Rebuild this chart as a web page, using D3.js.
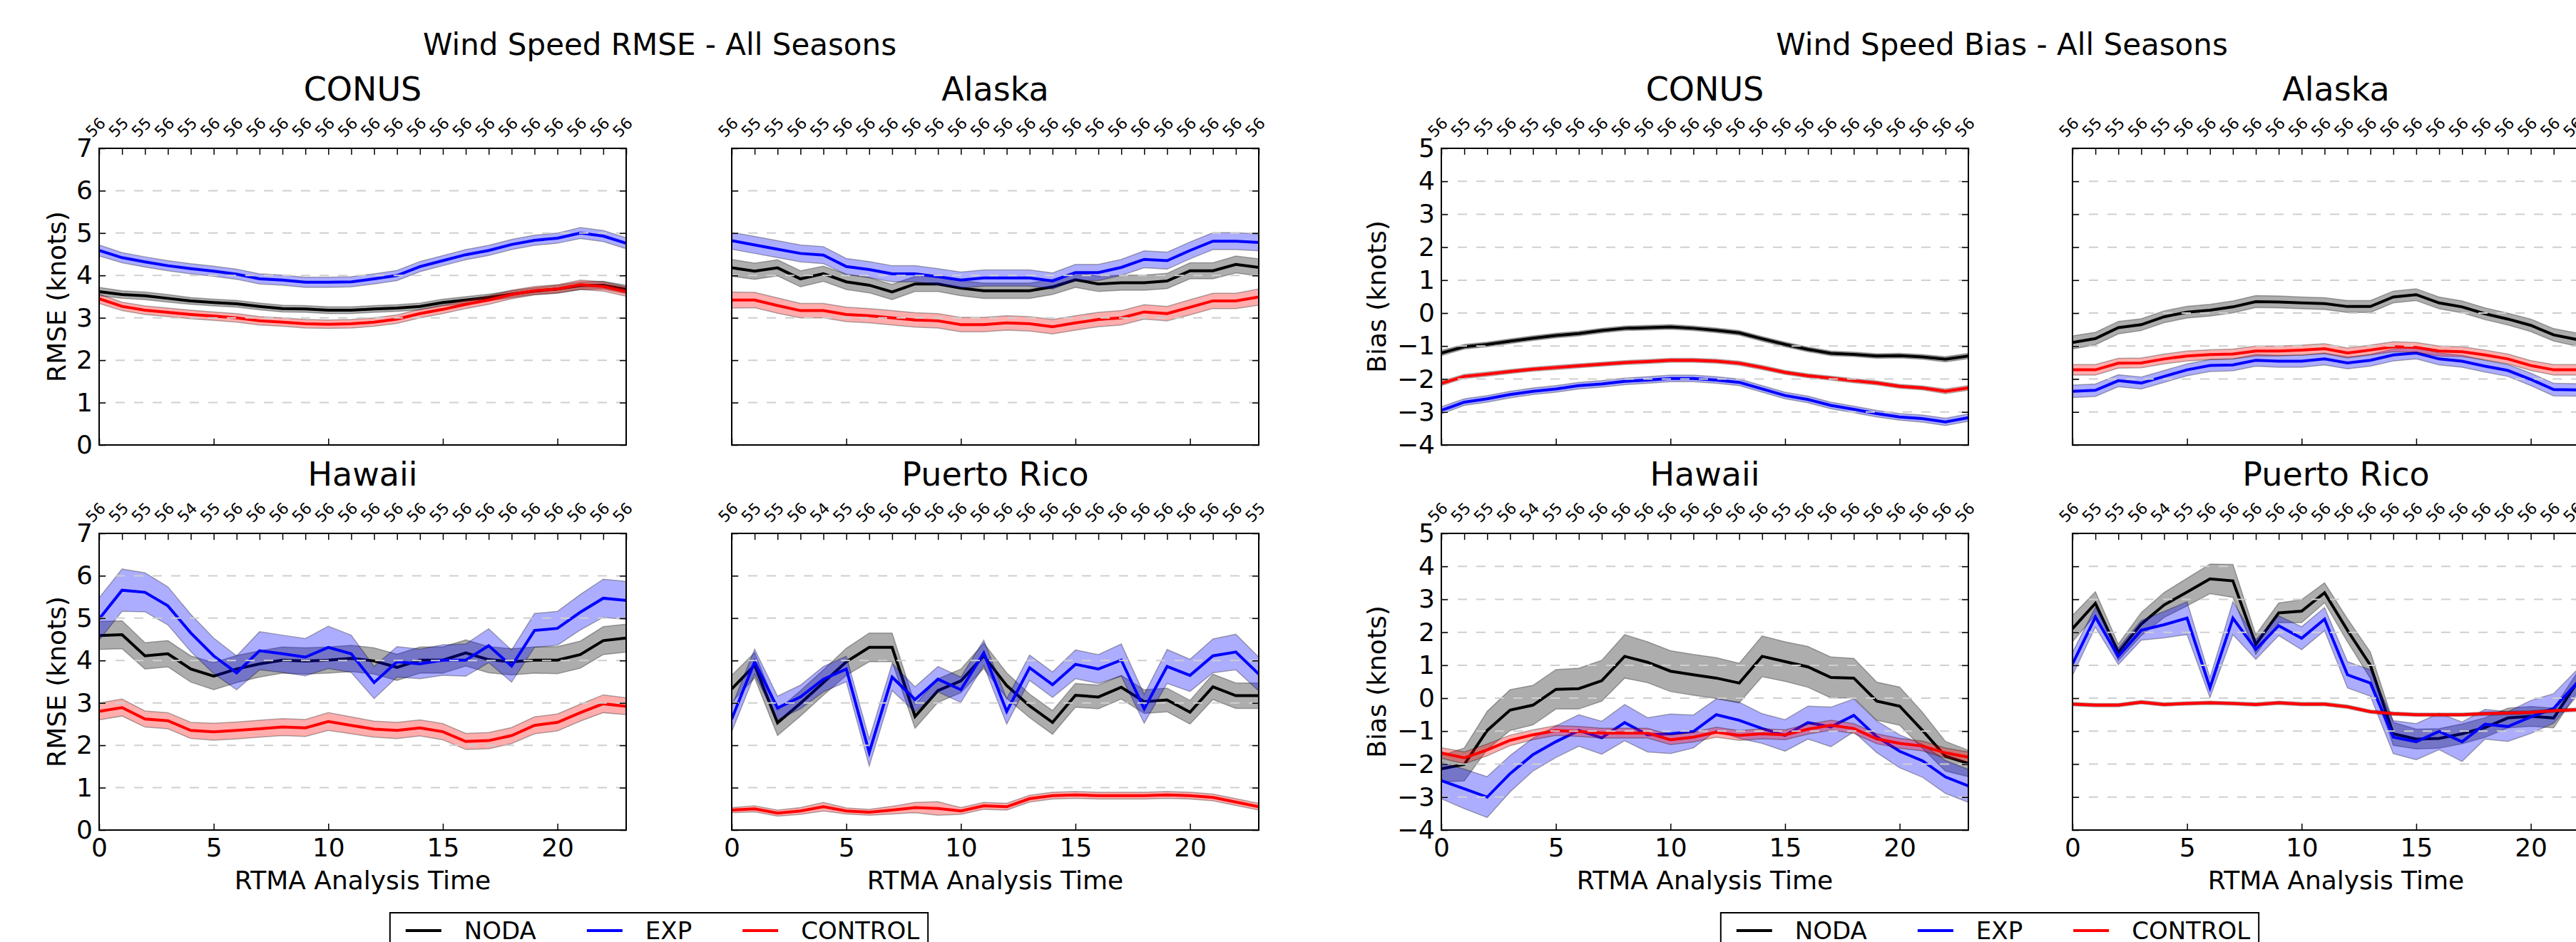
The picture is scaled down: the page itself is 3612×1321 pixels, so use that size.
<!DOCTYPE html>
<html>
<head>
<meta charset="utf-8">
<script src="https://cdn.jsdelivr.net/npm/d3@7"></script>
<style>
  body { margin: 0; background: #fff; }
  text { font-family: "DejaVu Sans", sans-serif; fill: #000; }
</style>
</head>
<body>
<svg id="chart"></svg>
<script>
// ---- data ----
var hours = [0,1,2,3,4,5,6,7,8,9,10,11,12,13,14,15,16,17,18,19,20,21,22,23];
var xTicks = [0,5,10,15,20];
var rmseTicks = [0,1,2,3,4,5,6,7];
var biasTicks = [-4,-3,-2,-1,0,1,2,3,4,5];
var seriesNames = ["NODA", "EXP", "CONTROL"];
var seriesColors = ["#000000", "#0000ff", "#ff0000"];

// sample counts shown on the top axis
var countsConus = ["56","55","55","56","55","56","56","56","56","56","56","56","56","56","56","56","56","56","56","56","56","56","56","56"];
var countsAlaska = ["56","55","55","56","55","56","56","56","56","56","56","56","56","56","56","56","56","56","56","56","56","56","56","56"];
var countsHawaii = ["56","55","55","56","54","55","56","56","56","56","56","56","56","56","56","55","56","56","56","56","56","56","56","56"];
var countsPR = ["56","55","55","56","54","55","56","56","56","56","56","56","56","56","56","56","56","56","56","56","56","56","56","55"];

// RMSE
var rmseConusNoda = [3.62,3.55,3.52,3.46,3.40,3.36,3.33,3.27,3.22,3.21,3.18,3.18,3.21,3.23,3.27,3.36,3.42,3.48,3.56,3.63,3.68,3.76,3.77,3.67];
var rmseConusExp = [4.59,4.42,4.32,4.23,4.16,4.10,4.03,3.92,3.89,3.84,3.84,3.85,3.92,4.00,4.21,4.35,4.49,4.59,4.73,4.83,4.88,5.00,4.93,4.76];
var rmseConusControl = [3.45,3.27,3.18,3.13,3.08,3.04,3.00,2.93,2.90,2.86,2.85,2.86,2.90,2.97,3.10,3.20,3.32,3.42,3.55,3.64,3.68,3.78,3.74,3.62];
var rmseConusNodaErr = [0.10,0.09,0.09,0.09,0.08,0.08,0.08,0.08,0.08,0.08,0.08,0.08,0.08,0.08,0.08,0.08,0.08,0.08,0.08,0.08,0.09,0.09,0.09,0.10];
var rmseConusExpErr = [0.13,0.12,0.12,0.12,0.12,0.12,0.12,0.12,0.12,0.12,0.12,0.12,0.12,0.12,0.12,0.12,0.12,0.12,0.12,0.12,0.12,0.13,0.13,0.13];
var rmseConusControlErr = [0.11,0.10,0.10,0.10,0.10,0.10,0.10,0.10,0.10,0.10,0.10,0.10,0.10,0.10,0.10,0.10,0.10,0.10,0.10,0.10,0.10,0.11,0.11,0.11];

var rmseAlaskaNoda = [4.18,4.10,4.18,3.92,4.04,3.85,3.77,3.61,3.80,3.80,3.70,3.64,3.64,3.64,3.73,3.90,3.80,3.83,3.83,3.87,4.11,4.11,4.26,4.19];
var rmseAlaskaExp = [4.82,4.72,4.62,4.52,4.48,4.21,4.14,4.04,4.04,3.97,3.89,3.94,3.94,3.94,3.87,4.07,4.07,4.19,4.38,4.35,4.59,4.81,4.81,4.78];
var rmseAlaskaControl = [3.42,3.42,3.29,3.17,3.17,3.08,3.05,3.00,2.95,2.93,2.84,2.84,2.88,2.86,2.79,2.88,2.96,3.00,3.14,3.10,3.25,3.40,3.40,3.49];
var rmseAlaskaNodaErr = [0.20,0.19,0.19,0.19,0.18,0.18,0.18,0.18,0.18,0.18,0.18,0.18,0.18,0.18,0.18,0.18,0.18,0.18,0.18,0.18,0.19,0.19,0.20,0.20];
var rmseAlaskaExpErr = [0.20,0.20,0.20,0.20,0.20,0.19,0.19,0.19,0.19,0.19,0.19,0.19,0.19,0.19,0.19,0.19,0.19,0.19,0.20,0.20,0.20,0.20,0.20,0.20];
var rmseAlaskaControlErr = [0.19,0.18,0.18,0.17,0.17,0.17,0.17,0.17,0.17,0.17,0.17,0.17,0.17,0.17,0.17,0.17,0.17,0.17,0.17,0.17,0.18,0.18,0.18,0.19];

var rmseHawaiiNoda = [4.59,4.61,4.11,4.16,3.80,3.63,3.80,3.92,4.01,3.99,4.01,4.05,3.99,3.84,4.01,4.01,4.18,4.02,3.97,4.01,4.01,4.14,4.47,4.53];
var rmseHawaiiExp = [4.98,5.66,5.61,5.29,4.65,4.11,3.71,4.23,4.16,4.08,4.31,4.16,3.48,3.97,3.92,4.01,4.01,4.35,3.87,4.71,4.76,5.14,5.47,5.42];
var rmseHawaiiControl = [2.80,2.89,2.62,2.58,2.35,2.32,2.35,2.39,2.43,2.41,2.56,2.47,2.38,2.35,2.41,2.32,2.09,2.11,2.23,2.47,2.54,2.77,2.98,2.92];
var rmseHawaiiNodaErr = [0.33,0.33,0.31,0.31,0.31,0.32,0.32,0.31,0.31,0.31,0.31,0.31,0.31,0.31,0.31,0.31,0.31,0.31,0.31,0.31,0.32,0.32,0.33,0.33];
var rmseHawaiiExpErr = [0.50,0.50,0.46,0.45,0.44,0.42,0.40,0.45,0.44,0.44,0.50,0.44,0.38,0.36,0.35,0.36,0.38,0.40,0.38,0.40,0.40,0.42,0.45,0.45];
var rmseHawaiiControlErr = [0.20,0.20,0.19,0.19,0.19,0.20,0.20,0.20,0.20,0.20,0.21,0.20,0.19,0.19,0.19,0.19,0.19,0.19,0.19,0.20,0.20,0.20,0.21,0.20];

var rmsePRNoda = [3.33,3.89,2.53,2.99,3.48,3.97,4.31,4.31,2.68,3.29,3.52,4.11,3.41,2.93,2.54,3.18,3.14,3.37,3.03,3.07,2.78,3.38,3.17,3.17];
var rmsePRExp = [2.62,3.97,2.88,3.14,3.56,3.80,1.83,3.61,3.08,3.56,3.31,4.18,2.80,3.83,3.43,3.91,3.80,4.01,2.86,3.86,3.65,4.11,4.20,3.68];
var rmsePRControl = [0.47,0.50,0.40,0.45,0.55,0.45,0.42,0.47,0.53,0.51,0.45,0.57,0.55,0.74,0.81,0.83,0.81,0.81,0.81,0.83,0.81,0.77,0.66,0.55];
var rmsePRNodaErr = [0.32,0.30,0.30,0.30,0.30,0.32,0.34,0.34,0.28,0.28,0.28,0.30,0.30,0.28,0.28,0.28,0.28,0.28,0.28,0.28,0.28,0.30,0.30,0.30];
var rmsePRExpErr = [0.30,0.30,0.28,0.28,0.30,0.30,0.32,0.32,0.30,0.30,0.30,0.30,0.30,0.30,0.30,0.34,0.34,0.38,0.34,0.40,0.38,0.40,0.42,0.40];
var rmsePRControlErr = [0.06,0.07,0.07,0.08,0.10,0.07,0.07,0.09,0.12,0.16,0.08,0.08,0.08,0.08,0.08,0.08,0.08,0.08,0.08,0.08,0.08,0.08,0.08,0.08];

// Bias
var biasConusNoda = [-1.21,-1.02,-0.95,-0.85,-0.76,-0.68,-0.62,-0.53,-0.46,-0.44,-0.42,-0.46,-0.52,-0.60,-0.78,-0.95,-1.10,-1.22,-1.25,-1.30,-1.29,-1.33,-1.40,-1.30];
var biasConusExp = [-2.95,-2.70,-2.60,-2.47,-2.37,-2.30,-2.20,-2.15,-2.07,-2.03,-1.98,-1.98,-2.03,-2.10,-2.30,-2.50,-2.62,-2.80,-2.92,-3.05,-3.15,-3.20,-3.30,-3.17];
var biasConusControl = [-2.13,-1.92,-1.85,-1.77,-1.70,-1.65,-1.60,-1.55,-1.50,-1.47,-1.43,-1.43,-1.46,-1.52,-1.65,-1.80,-1.90,-1.97,-2.05,-2.12,-2.22,-2.27,-2.37,-2.27];
var biasConusNodaErr = [0.08,0.07,0.07,0.07,0.07,0.07,0.07,0.07,0.07,0.07,0.07,0.07,0.07,0.07,0.07,0.07,0.07,0.07,0.07,0.07,0.07,0.07,0.08,0.08];
var biasConusExpErr = [0.11,0.10,0.10,0.10,0.10,0.10,0.10,0.10,0.10,0.10,0.10,0.10,0.10,0.10,0.10,0.10,0.10,0.10,0.10,0.10,0.10,0.11,0.11,0.11];
var biasConusControlErr = [0.07,0.06,0.06,0.06,0.06,0.06,0.06,0.06,0.06,0.06,0.06,0.06,0.06,0.06,0.06,0.06,0.06,0.06,0.06,0.06,0.06,0.06,0.07,0.07];

var biasAlaskaNoda = [-0.89,-0.77,-0.44,-0.35,-0.11,0.03,0.09,0.19,0.35,0.34,0.31,0.29,0.20,0.20,0.49,0.56,0.31,0.19,-0.02,-0.18,-0.37,-0.66,-0.80,-0.85];
var biasAlaskaExp = [-2.37,-2.34,-2.05,-2.12,-1.92,-1.72,-1.59,-1.57,-1.43,-1.46,-1.46,-1.39,-1.51,-1.43,-1.27,-1.21,-1.39,-1.46,-1.61,-1.74,-2.01,-2.32,-2.33,-2.25];
var biasAlaskaControl = [-1.72,-1.72,-1.52,-1.51,-1.39,-1.30,-1.26,-1.24,-1.15,-1.15,-1.12,-1.08,-1.21,-1.12,-1.02,-1.04,-1.15,-1.17,-1.27,-1.39,-1.59,-1.72,-1.72,-1.68];
var biasAlaskaNodaErr = [0.20,0.19,0.19,0.18,0.18,0.18,0.18,0.18,0.18,0.18,0.18,0.18,0.18,0.18,0.18,0.18,0.18,0.18,0.18,0.18,0.19,0.19,0.20,0.20];
var biasAlaskaExpErr = [0.19,0.19,0.18,0.18,0.18,0.18,0.18,0.18,0.18,0.18,0.18,0.18,0.18,0.18,0.18,0.18,0.18,0.18,0.18,0.18,0.19,0.19,0.19,0.19];
var biasAlaskaControlErr = [0.16,0.16,0.15,0.15,0.15,0.15,0.15,0.15,0.15,0.15,0.15,0.15,0.15,0.15,0.15,0.15,0.15,0.15,0.15,0.15,0.15,0.16,0.16,0.16];

var biasHawaiiNoda = [-2.14,-2.01,-0.98,-0.36,-0.21,0.27,0.29,0.53,1.27,1.09,0.82,0.71,0.61,0.46,1.27,1.11,0.95,0.63,0.61,-0.09,-0.24,-0.98,-1.76,-1.98];
var biasHawaiiExp = [-2.50,-2.75,-3.00,-2.29,-1.71,-1.32,-0.98,-1.20,-0.74,-1.11,-1.08,-1.01,-0.50,-0.67,-0.92,-1.13,-0.74,-0.87,-0.52,-1.17,-1.61,-1.90,-2.39,-2.66];
var biasHawaiiControl = [-1.66,-1.81,-1.57,-1.28,-1.11,-0.98,-1.01,-1.06,-1.06,-1.06,-1.26,-1.18,-1.03,-1.13,-1.08,-1.11,-0.94,-0.82,-0.92,-1.23,-1.37,-1.45,-1.66,-1.79];
var biasHawaiiNodaErr = [0.40,0.50,0.58,0.62,0.60,0.60,0.62,0.62,0.66,0.62,0.62,0.62,0.62,0.60,0.62,0.60,0.62,0.62,0.60,0.58,0.58,0.55,0.45,0.40];
var biasHawaiiExpErr = [0.55,0.60,0.62,0.55,0.50,0.48,0.48,0.50,0.55,0.52,0.60,0.50,0.48,0.55,0.45,0.48,0.50,0.60,0.50,0.48,0.50,0.50,0.50,0.50];
var biasHawaiiControlErr = [0.16,0.18,0.18,0.16,0.15,0.15,0.15,0.15,0.15,0.15,0.15,0.15,0.15,0.15,0.15,0.15,0.15,0.15,0.15,0.15,0.15,0.15,0.15,0.16];

var biasPRNoda = [2.11,2.88,1.39,2.25,2.83,3.22,3.62,3.56,1.63,2.59,2.64,3.20,2.06,1.00,-1.08,-1.24,-1.22,-1.08,-0.89,-0.60,-0.55,-0.60,0.45,1.00];
var biasPRExp = [1.04,2.46,1.27,2.06,2.23,2.43,0.32,2.43,1.48,2.20,1.82,2.40,0.71,0.46,-1.18,-1.32,-1.01,-1.32,-0.79,-0.86,-0.57,-0.31,0.45,1.00];
var biasPRControl = [-0.18,-0.21,-0.21,-0.12,-0.19,-0.16,-0.14,-0.16,-0.19,-0.14,-0.18,-0.18,-0.26,-0.41,-0.47,-0.50,-0.50,-0.50,-0.47,-0.45,-0.43,-0.38,-0.35,-0.32];
var biasPRNodaErr = [0.40,0.35,0.25,0.35,0.38,0.42,0.45,0.50,0.30,0.30,0.35,0.30,0.35,0.40,0.35,0.30,0.30,0.30,0.30,0.30,0.30,0.30,0.30,0.30];
var biasPRExpErr = [0.35,0.30,0.25,0.30,0.40,0.50,0.30,0.50,0.30,0.30,0.35,0.35,0.40,0.40,0.50,0.55,0.55,0.60,0.45,0.45,0.50,0.45,0.40,0.40];
var biasPRControlErr = [0.05,0.05,0.05,0.05,0.05,0.05,0.05,0.05,0.05,0.05,0.05,0.05,0.05,0.05,0.05,0.05,0.05,0.05,0.05,0.05,0.05,0.05,0.05,0.05];

// ---- layout ----
var W = 3612, H = 1321;
var plotW = 739, plotH = 416;
var rowTop = [208, 748];
var colLeft = { rmse: [139, 1026], bias: [2021, 2906] };
var figCenter = { rmse: 925, bias: 2807 };
var legendCenter = { rmse: 924, bias: 2790 };
var fontSup = 42, fontTitle = 46, fontMid = 36, fontLegend = 34, fontSmall = 22;

var svg = d3.select("#chart").attr("width", W).attr("height", H);
svg.append("rect").attr("width", W).attr("height", H).attr("fill", "#fff");

var panels = [
  { metric: "rmse", row: 0, col: 0, title: "CONUS", counts: countsConus,
    vals: [rmseConusNoda, rmseConusExp, rmseConusControl], errs: [rmseConusNodaErr, rmseConusExpErr, rmseConusControlErr] },
  { metric: "rmse", row: 0, col: 1, title: "Alaska", counts: countsAlaska,
    vals: [rmseAlaskaNoda, rmseAlaskaExp, rmseAlaskaControl], errs: [rmseAlaskaNodaErr, rmseAlaskaExpErr, rmseAlaskaControlErr] },
  { metric: "rmse", row: 1, col: 0, title: "Hawaii", counts: countsHawaii,
    vals: [rmseHawaiiNoda, rmseHawaiiExp, rmseHawaiiControl], errs: [rmseHawaiiNodaErr, rmseHawaiiExpErr, rmseHawaiiControlErr] },
  { metric: "rmse", row: 1, col: 1, title: "Puerto Rico", counts: countsPR,
    vals: [rmsePRNoda, rmsePRExp, rmsePRControl], errs: [rmsePRNodaErr, rmsePRExpErr, rmsePRControlErr] },
  { metric: "bias", row: 0, col: 0, title: "CONUS", counts: countsConus,
    vals: [biasConusNoda, biasConusExp, biasConusControl], errs: [biasConusNodaErr, biasConusExpErr, biasConusControlErr] },
  { metric: "bias", row: 0, col: 1, title: "Alaska", counts: countsAlaska,
    vals: [biasAlaskaNoda, biasAlaskaExp, biasAlaskaControl], errs: [biasAlaskaNodaErr, biasAlaskaExpErr, biasAlaskaControlErr] },
  { metric: "bias", row: 1, col: 0, title: "Hawaii", counts: countsHawaii,
    vals: [biasHawaiiNoda, biasHawaiiExp, biasHawaiiControl], errs: [biasHawaiiNodaErr, biasHawaiiExpErr, biasHawaiiControlErr] },
  { metric: "bias", row: 1, col: 1, title: "Puerto Rico", counts: countsPR,
    vals: [biasPRNoda, biasPRExp, biasPRControl], errs: [biasPRNodaErr, biasPRExpErr, biasPRControlErr] }
];

// draws one subplot
function drawPanel(p, idx) {
  var left = colLeft[p.metric][p.col], top = rowTop[p.row];
  var ticks = p.metric === "rmse" ? rmseTicks : biasTicks;
  var x = d3.scaleLinear().domain([hours[0], hours[hours.length - 1]]).range([left, left + plotW]);
  var y = d3.scaleLinear().domain([ticks[0], ticks[ticks.length - 1]]).range([top + plotH, top]);

  var g = svg.append("g");
  var clipId = "clip" + idx;
  g.append("clipPath").attr("id", clipId)
    .append("rect").attr("x", left).attr("y", top).attr("width", plotW).attr("height", plotH);

  var data = g.append("g").attr("clip-path", "url(#" + clipId + ")");
  p.vals.forEach(function (v, s) {
    var err = p.errs[s];
    var area = d3.area()
      .x(function (d, i) { return x(hours[i]); })
      .y0(function (d, i) { return y(d - err[i]); })
      .y1(function (d, i) { return y(d + err[i]); });
    var line = d3.line()
      .x(function (d, i) { return x(hours[i]); })
      .y(function (d) { return y(d); });
    data.append("path").attr("d", area(v))
      .attr("fill", seriesColors[s]).attr("fill-opacity", 0.32)
      .attr("stroke", "#000").attr("stroke-opacity", 0.3).attr("stroke-width", 1.5);
    data.append("path").attr("d", line(v))
      .attr("fill", "none").attr("stroke", seriesColors[s]).attr("stroke-width", 4);
  });

  // dashed grid (drawn above the data, like the original)
  g.append("g").selectAll("line")
    .data(ticks.slice(1, -1))
    .enter().append("line")
    .attr("x1", left).attr("x2", left + plotW)
    .attr("y1", function (d) { return y(d); }).attr("y2", function (d) { return y(d); })
    .attr("stroke", "#cfcfcf").attr("stroke-width", 2)
    .attr("stroke-dasharray", "13,13").attr("stroke-dashoffset", 3);

  // axes with inward ticks
  var axB = d3.axisBottom(x).tickValues(xTicks).tickSizeInner(-9).tickSizeOuter(0).tickPadding(11)
    .tickFormat(d3.format("d"));
  if (p.row === 0) axB.tickFormat("");
  var gb = g.append("g").attr("transform", "translate(0," + (top + plotH) + ")").call(axB);

  var axT = d3.axisTop(x).tickValues(hours).tickSizeInner(-9).tickSizeOuter(0)
    .tickFormat(function (d, i) { return p.counts[i]; });
  var gt = g.append("g").attr("transform", "translate(0," + top + ")").call(axT);
  gt.selectAll("text")
    .attr("x", null).attr("y", null).attr("dy", null)
    .attr("text-anchor", "middle")
    .attr("transform", "translate(0,-24) rotate(-45)")
    .style("font-size", fontSmall + "px");

  var axL = d3.axisLeft(y).tickValues(ticks).tickSizeInner(-9).tickSizeOuter(0).tickPadding(9)
    .tickFormat(d3.format("d"));
  if (p.col === 1) axL.tickFormat("");
  var gl = g.append("g").attr("transform", "translate(" + left + ",0)").call(axL);

  var axR = d3.axisRight(y).tickValues(ticks).tickSizeInner(-9).tickSizeOuter(0).tickFormat("");
  var gr = g.append("g").attr("transform", "translate(" + (left + plotW) + ",0)").call(axR);

  [gb, gt, gl, gr].forEach(function (a) {
    a.select(".domain").remove();
    a.attr("font-family", null).attr("font-size", null);
    a.selectAll(".tick line").attr("stroke", "#000").attr("stroke-width", 1.5);
  });
  gb.selectAll("text").style("font-size", fontMid + "px");
  gl.selectAll("text").style("font-size", fontMid + "px");

  // frame
  g.append("rect").attr("x", left).attr("y", top).attr("width", plotW).attr("height", plotH)
    .attr("fill", "none").attr("stroke", "#000").attr("stroke-width", 2);

  // subplot title
  g.append("text").attr("x", left + plotW / 2).attr("y", top - 67)
    .attr("text-anchor", "middle").style("font-size", fontTitle + "px").text(p.title);

  if (p.row === 1) {
    g.append("text").attr("x", left + plotW / 2).attr("y", top + plotH + 83)
      .attr("text-anchor", "middle").style("font-size", fontMid + "px").text("RTMA Analysis Time");
  }
  if (p.col === 0) {
    var lx = p.metric === "rmse" ? left - 47 : left - 78;
    g.append("text")
      .attr("transform", "translate(" + lx + "," + (top + plotH / 2) + ") rotate(-90)")
      .attr("text-anchor", "middle").style("font-size", fontMid + "px")
      .text(p.metric === "rmse" ? "RMSE (knots)" : "Bias (knots)");
  }
}

panels.forEach(drawPanel);

// figure titles
svg.append("text").attr("x", figCenter.rmse).attr("y", 77).attr("text-anchor", "middle")
  .style("font-size", fontSup + "px").text("Wind Speed RMSE - All Seasons");
svg.append("text").attr("x", figCenter.bias).attr("y", 77).attr("text-anchor", "middle")
  .style("font-size", fontSup + "px").text("Wind Speed Bias - All Seasons");

// legends
function drawLegend(cx) {
  var g = svg.append("g");
  var box = g.append("rect").attr("y", 1280).attr("height", 80)
    .attr("fill", "#fff").attr("stroke", "#000").attr("stroke-width", 2);
  var items = [];
  seriesNames.forEach(function (name, i) {
    var it = g.append("g");
    it.append("line").attr("x1", 0).attr("x2", 50).attr("y1", 1305).attr("y2", 1305)
      .attr("stroke", seriesColors[i]).attr("stroke-width", 4);
    var t = it.append("text").attr("x", 82).attr("y", 1317).style("font-size", fontLegend + "px").text(name);
    items.push({ g: it, w: 82 + t.node().getComputedTextLength() });
  });
  var padL = 22, padR = 12, gap = 71;
  var total = padL + padR + d3.sum(items, function (d) { return d.w; }) + gap * (items.length - 1);
  var x0 = cx - total / 2;
  box.attr("x", x0).attr("width", total);
  var cur = x0 + padL;
  items.forEach(function (d) {
    d.g.attr("transform", "translate(" + cur + ",0)");
    cur += d.w + gap;
  });
}
drawLegend(legendCenter.rmse);
drawLegend(legendCenter.bias);
</script>
</body>
</html>
